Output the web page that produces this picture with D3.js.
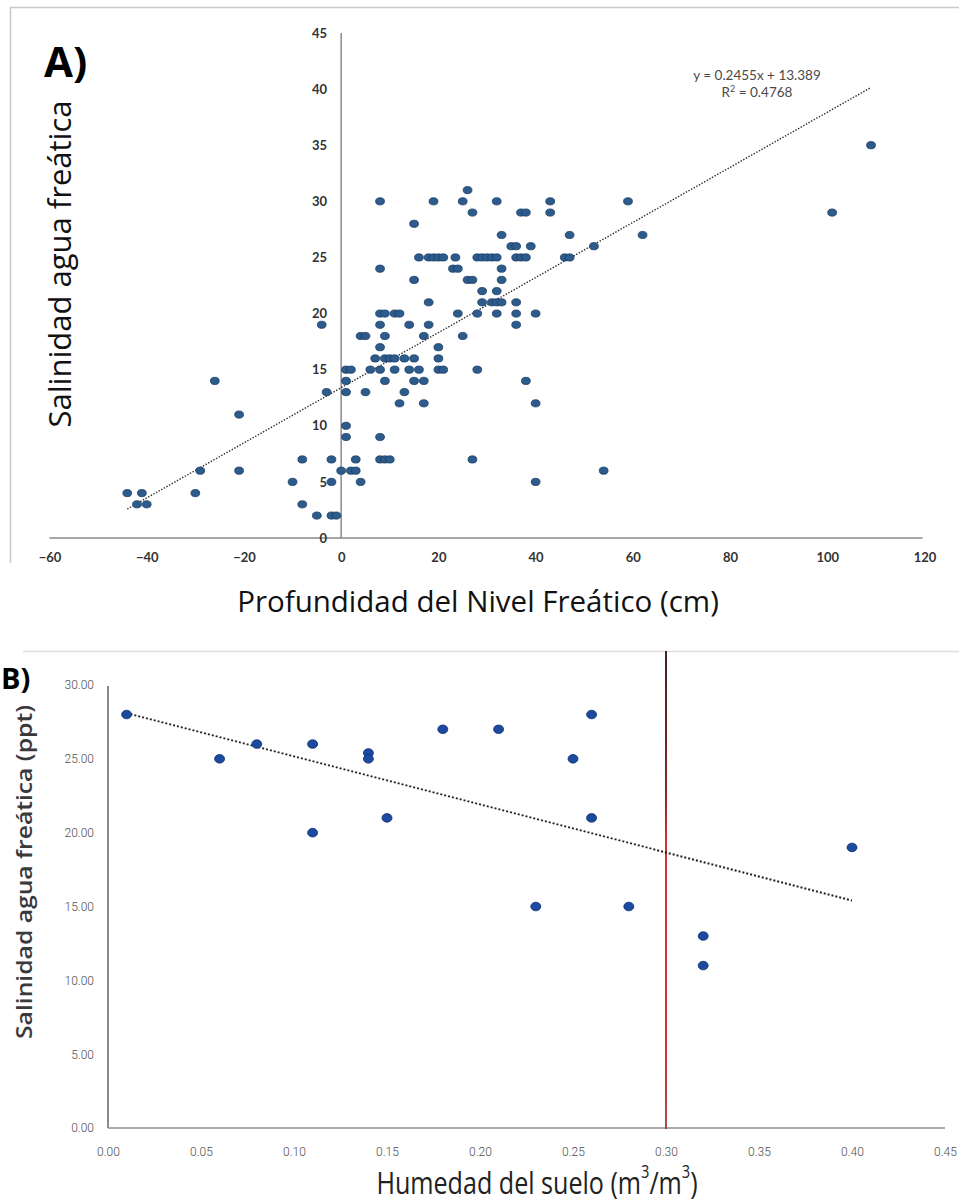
<!DOCTYPE html>
<html>
<head>
<meta charset="utf-8">
<script src="https://cdn.jsdelivr.net/npm/d3@7"></script>
<style>
  html, body { margin: 0; padding: 0; background: #fff; }
  svg { display: block; }
</style>
</head>
<body>
<svg id="fig" width="959" height="1204"></svg>
<script>
// Panel A: water-table depth (cm) vs groundwater salinity
const depthA = [
  -44, -41, -42, -40, -30, -29, -26, -21, -21,
  -10, -8, -8, -5, -4, -3, -2, -2, -2, -1,
  0, 1, 1, 1, 2, 1, 1, 3, 2, 3, 4,
  4, 5, 5, 6, 7, 8, 8, 8, 8, 9, 8, 8, 8, 8, 9, 10,
  9, 9, 10, 11, 9, 11, 11, 12, 12, 13, 13, 14, 14,
  15, 15, 15, 15, 16, 16, 17, 17, 17, 18, 18, 18, 19, 20, 21, 19,
  20, 20, 20, 21, 23, 24, 23.5, 24, 25, 25, 26, 26, 27, 27, 27,
  28, 28, 28, 29, 30, 31, 32, 29, 32, 29, 31, 32, 33, 32, 32, 33, 33, 33,
  35, 36, 36, 37, 38, 36, 36, 36, 37, 38, 38, 39,
  40, 40, 40, 43, 43, 46, 47, 47, 52, 54, 59, 62, 101, 109
];
const salinityA = [
  4, 4, 3, 3, 4, 6, 14, 11, 6,
  5, 7, 3, 2, 19, 13, 7, 5, 2, 2,
  6, 14, 13, 15, 15, 10, 9, 7, 6, 6, 5,
  18, 18, 13, 15, 16, 17, 15, 19, 20, 20, 30, 24, 9, 7, 7, 7,
  18, 16, 16, 16, 14, 15, 20, 20, 12, 16, 13, 19, 15,
  28, 23, 16, 14, 15, 25, 14, 18, 12, 19, 21, 25, 25, 25, 25, 30,
  17, 16, 15, 15, 24, 24, 25, 20, 18, 30, 31, 23, 23, 29, 7,
  25, 20, 15, 25, 25, 25, 25, 22, 22, 21, 21, 21, 21, 20, 30, 27, 24, 23,
  26, 26, 25, 25, 25, 21, 20, 19, 29, 29, 14, 26,
  20, 12, 5, 30, 29, 25, 25, 27, 26, 6, 30, 27, 29, 35
];
const ticksXA = [-60, -40, -20, 0, 20, 40, 60, 80, 100, 120];
const ticksYA = [0, 5, 10, 15, 20, 25, 30, 35, 40, 45];
const trendA = { slope: 0.2455, intercept: 13.389, r2: 0.4768 };

// Panel B: soil moisture (m3/m3) vs groundwater salinity (ppt)
const moistureB = [0.01, 0.06, 0.08, 0.11, 0.11, 0.14, 0.14, 0.15, 0.18, 0.21, 0.23, 0.25, 0.26, 0.26, 0.28, 0.32, 0.32, 0.40];
const salinityB = [28, 25, 26, 26, 20, 25.4, 25, 21, 27, 27, 15, 25, 28, 21, 15, 13, 11, 19];
const ticksXB = [0, 0.05, 0.10, 0.15, 0.20, 0.25, 0.30, 0.35, 0.40, 0.45];
const ticksYB = [0, 5, 10, 15, 20, 25, 30];
const thresholdB = 0.30;

const svg = d3.select("#fig");

// ---------- Panel A ----------
const gA = svg.append("g");

// chart frame (top and left edges)
gA.append("path")
  .attr("d", "M10.5,563 L10.5,7.5 L959,7.5")
  .attr("fill", "none").attr("stroke", "#c9c9c9").attr("stroke-width", 1.5);

const xA = d3.scaleLinear().domain([-60, 120]).range([49.5, 924.5]);
const yA = d3.scaleLinear().domain([0, 45]).range([538, 33]);

// axis lines through the origin
gA.append("line")
  .attr("x1", xA(-60)).attr("x2", xA(120) - 2)
  .attr("y1", yA(0)).attr("y2", yA(0))
  .attr("stroke", "#8a8a8a").attr("stroke-width", 1.5);
gA.append("line")
  .attr("x1", xA(0)).attr("x2", xA(0))
  .attr("y1", yA(0)).attr("y2", yA(45))
  .attr("stroke", "#8a8a8a").attr("stroke-width", 1.5);

const tickFontA = g => g.selectAll("text")
  .attr("font-family", "Lato, 'Open Sans', sans-serif")
  .attr("font-weight", "bold")
  .attr("font-size", 13)
  .attr("fill", "#333");

gA.append("g")
  .attr("transform", `translate(0,${yA(0)})`)
  .call(d3.axisBottom(xA).tickValues(ticksXA).tickSize(0).tickPadding(15))
  .call(g => g.select(".domain").remove())
  .call(tickFontA);

gA.append("g")
  .attr("transform", `translate(${xA(0)},0)`)
  .call(d3.axisLeft(yA).tickValues(ticksYA).tickSize(0).tickPadding(14))
  .call(g => g.select(".domain").remove())
  .call(tickFontA);

// linear trendline across the data range
const extA = d3.extent(depthA);
gA.append("line")
  .attr("x1", xA(extA[0])).attr("y1", yA(trendA.slope * extA[0] + trendA.intercept))
  .attr("x2", xA(extA[1])).attr("y2", yA(trendA.slope * extA[1] + trendA.intercept))
  .attr("stroke", "#2b2b2b").attr("stroke-width", 1.4)
  .attr("stroke-dasharray", "1.4,1.6");

// observations
gA.append("g").selectAll("ellipse")
  .data(d3.range(depthA.length))
  .join("ellipse")
  .attr("cx", i => xA(depthA[i]))
  .attr("cy", i => yA(salinityA[i]))
  .attr("rx", 4.4).attr("ry", 3.6)
  .attr("fill", "#2d5b8c")
  .attr("stroke", "#1a3d66").attr("stroke-width", 0.8);

// regression equation
const eq = gA.append("g")
  .attr("font-family", "Lato, 'Open Sans', sans-serif")
  .attr("font-size", 13.5).attr("fill", "#4a4a4a").attr("text-anchor", "middle");
eq.append("text").attr("x", 757).attr("y", 80)
  .text(`y = ${trendA.slope}x + ${trendA.intercept}`);
const r2 = eq.append("text").attr("x", 757).attr("y", 97);
r2.append("tspan").text("R");
r2.append("tspan").attr("font-size", 9).attr("dy", -5).text("2");
r2.append("tspan").attr("dy", 5).text(` = ${trendA.r2}`);

// panel letter and titles
gA.append("text").attr("x", 44).attr("y", 77)
  .attr("font-family", "'Open Sans', sans-serif").attr("font-weight", 700)
  .attr("font-size", 42).attr("fill", "#000").text("A)");

gA.append("text")
  .attr("transform", "translate(71,264) rotate(-90)")
  .attr("text-anchor", "middle")
  .attr("font-family", "'Open Sans', sans-serif").attr("font-size", 31)
  .attr("fill", "#111").text("Salinidad agua freática");

gA.append("text")
  .attr("x", 478).attr("y", 612)
  .attr("text-anchor", "middle")
  .attr("font-family", "'Open Sans', sans-serif").attr("font-size", 29.5)
  .attr("fill", "#111").text("Profundidad del Nivel Freático (cm)");

// ---------- Panel B ----------
const gB = svg.append("g");

gB.append("line")
  .attr("x1", 23).attr("x2", 959).attr("y1", 651.5).attr("y2", 651.5)
  .attr("stroke", "#dedede").attr("stroke-width", 1.5);

const xB = d3.scaleLinear().domain([0, 0.45]).range([108, 945]);
const yB = d3.scaleLinear().domain([0, 30]).range([1128, 685]);

gB.append("line")
  .attr("x1", xB(0)).attr("x2", xB(0.45))
  .attr("y1", yB(0)).attr("y2", yB(0))
  .attr("stroke", "#8c8c8c").attr("stroke-width", 1.5);
gB.append("line")
  .attr("x1", xB(0)).attr("x2", xB(0))
  .attr("y1", yB(0)).attr("y2", yB(30) + 1)
  .attr("stroke", "#8c8c8c").attr("stroke-width", 2);

const tickFontB = g => g.selectAll("text")
  .attr("font-family", "'Liberation Sans Narrow', 'Roboto', sans-serif")
  .attr("font-weight", 300)
  .attr("font-size", 12)
  .attr("fill", "#4d4d4d");

gB.append("g")
  .attr("transform", `translate(0,${yB(0)})`)
  .call(d3.axisBottom(xB).tickValues(ticksXB).tickSize(0).tickPadding(19).tickFormat(d3.format(".2f")))
  .call(g => g.select(".domain").remove())
  .call(tickFontB);

gB.append("g")
  .attr("transform", `translate(${xB(0)},0)`)
  .call(d3.axisLeft(yB).tickValues(ticksYB).tickSize(0).tickPadding(14).tickFormat(d3.format(".2f")))
  .call(g => g.select(".domain").remove())
  .call(tickFontB);

// threshold marker at 0.30 m3/m3
const grad = svg.append("defs").append("linearGradient")
  .attr("id", "thrGrad").attr("gradientUnits", "userSpaceOnUse")
  .attr("x1", 0).attr("x2", 0).attr("y1", 651).attr("y2", yB(0));
grad.append("stop").attr("offset", 0).attr("stop-color", "#2a0c0c");
grad.append("stop").attr("offset", 0.3).attr("stop-color", "#7a1010");
grad.append("stop").attr("offset", 0.4).attr("stop-color", "#d21818");
grad.append("stop").attr("offset", 0.85).attr("stop-color", "#cc1a1a");
grad.append("stop").attr("offset", 1).attr("stop-color", "#9a3a3a");
gB.append("line")
  .attr("x1", xB(thresholdB)).attr("x2", xB(thresholdB))
  .attr("y1", 651).attr("y2", yB(0) + 1)
  .attr("stroke", "url(#thrGrad)").attr("stroke-width", 1.8);

// least-squares trendline over the data range
const mx = d3.mean(moistureB), my = d3.mean(salinityB);
const sxy = d3.sum(moistureB, (x, i) => (x - mx) * (salinityB[i] - my));
const sxx = d3.sum(moistureB, x => (x - mx) * (x - mx));
const slopeB = sxy / sxx, interceptB = my - slopeB * mx;
const extB = d3.extent(moistureB);
gB.append("line")
  .attr("x1", xB(extB[0])).attr("y1", yB(slopeB * extB[0] + interceptB))
  .attr("x2", xB(extB[1])).attr("y2", yB(slopeB * extB[1] + interceptB))
  .attr("stroke", "#222").attr("stroke-width", 2)
  .attr("stroke-dasharray", "2,2");

gB.append("g").selectAll("ellipse")
  .data(d3.range(moistureB.length))
  .join("ellipse")
  .attr("cx", i => xB(moistureB[i]))
  .attr("cy", i => yB(salinityB[i]))
  .attr("rx", 5).attr("ry", 4.3)
  .attr("fill", "#1c4aa0")
  .attr("stroke", "#102f6e").attr("stroke-width", 0.8);

gB.append("text").attr("x", 1).attr("y", 689)
  .attr("font-family", "'Open Sans', sans-serif").attr("font-weight", 700)
  .attr("font-size", 29).attr("fill", "#000").text("B)");

gB.append("text")
  .attr("transform", "translate(32,872) rotate(-90)")
  .attr("text-anchor", "middle")
  .attr("font-family", "'Open Sans', sans-serif").attr("font-weight", 600)
  .attr("font-size", 22).attr("fill", "#3a3a3a")
  .attr("textLength", 334).attr("lengthAdjust", "spacingAndGlyphs")
  .text("Salinidad agua freática (ppt)");

const xt = gB.append("text")
  .attr("transform", "translate(537,1194) scale(0.81,1)")
  .attr("text-anchor", "middle")
  .attr("font-family", "'Open Sans', sans-serif")
  .attr("font-size", 31).attr("fill", "#222");
xt.append("tspan").text("Humedad del suelo (m");
xt.append("tspan").attr("font-size", 18).attr("dy", -16).text("3");
xt.append("tspan").attr("dy", 16).text("/m");
xt.append("tspan").attr("font-size", 18).attr("dy", -16).text("3");
xt.append("tspan").attr("dy", 16).text(")");
</script>
</body>
</html>
